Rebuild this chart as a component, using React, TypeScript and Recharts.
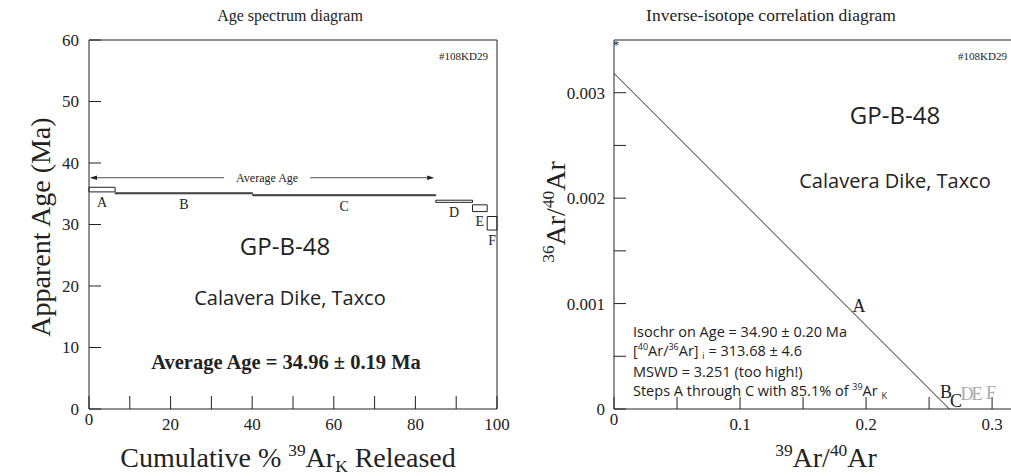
import {
  ComposedChart,
  Line,
  ReferenceArea,
  ReferenceLine,
  Scatter,
  XAxis,
  YAxis,
} from "recharts";

// age spectrum steps (cumulative % 39ArK, apparent age Ma)
const stepNames = ["A", "B", "C", "D", "E", "F"];
const stepStart = [0, 6.4, 40.1, 85.0, 94.0, 97.6];
const stepEnd = [6.4, 40.1, 85.0, 94.0, 97.6, 100];
const ageLow = [35.3, 35.0, 34.68, 33.6, 32.1, 29.1];
const ageHigh = [36.05, 35.15, 34.83, 33.95, 33.2, 31.3];

// "Average Age" arrow span
const avgArrowAge = 37.6;
const avgArrowFrom = 0;
const avgArrowTo = 84.6;

const cumTicks = [0, 10, 20, 30, 40, 50, 60, 70, 80, 90, 100];
const cumTickLabels = ["0", "", "20", "", "40", "", "60", "", "80", "", "100"];
const ageTicks = [0, 10, 20, 30, 40, 50, 60];
const ageTickLabels = ["0", "10", "20", "30", "40", "50", "60"];

// inverse isochron
const isoNames = ["A", "B", "C", "D", "E", "F"];
const isoX = [0.1944, 0.2634, 0.2714, 0.2801, 0.288, 0.2991];
const isoY = [0.000977, 0.000161, 0.000076, 0.000142, 0.000142, 0.000152];
const isochronX = [0, 0.2661];
const isochronY = [0.003184, 0];
const atmX = [0.0016];
const atmY = [0.00348];

const ratioXTicks = [0, 0.05, 0.1, 0.15, 0.2, 0.25, 0.3];
const ratioXLabels = ["0", "", "0.1", "", "0.2", "", "0.3"];
const ratioYTicks = [0, 0.0005, 0.001, 0.0015, 0.002, 0.0025, 0.003];
const ratioYLabels = ["0", "", "0.001", "", "0.002", "", "0.003"];

const SERIF = "'Liberation Serif', 'Times New Roman', serif";
const SANS = "'Open Sans', 'Noto Sans', sans-serif";
const INK = "#222";

const stepLabelData = stepNames.map((n, i) => ({
  name: n,
  x: (stepStart[i] + stepEnd[i]) / 2,
  y: ageLow[i],
}));
const isoData = isoNames.map((n, i) => ({ name: n, x: isoX[i], y: isoY[i] }));
const isochronData = isochronX.map((x, i) => ({ x, y: isochronY[i] }));
const atmData = atmX.map((x, i) => ({ x, y: atmY[i] }));

const BottomTick = (labels: string[], len: number, off: number) => (p: any) => {
  const { x, y, index } = p;
  const label = labels[index];
  return (
    <g>
      <line x1={x} x2={x} y1={y} y2={y - len} stroke={INK} strokeWidth={1} />
      {label && (
        <text
          x={x}
          y={y + off - (label === "0" ? 5 : 0)}
          dy="0.35em"
          textAnchor="middle"
          fontSize={17}
          fontFamily={SERIF}
          fill={INK}
        >
          {label}
        </text>
      )}
    </g>
  );
};

const LeftTick = (labels: string[], len: number, off: number) => (p: any) => {
  const { x, y, index } = p;
  const label = labels[index];
  return (
    <g>
      <line x1={x} x2={x + len} y1={y} y2={y} stroke={INK} strokeWidth={1} />
      {label && (
        <text
          x={x - off}
          y={y}
          dy="0.35em"
          textAnchor="end"
          fontSize={17}
          fontFamily={SERIF}
          fill={INK}
        >
          {label}
        </text>
      )}
    </g>
  );
};

const AvgArrow = (p: any) => {
  const { x1, y1, x2 } = p;
  const mid = x1 + (x2 - x1) * 0.516;
  const gap = 43;
  return (
    <g>
      <line x1={x1 + 2} y1={y1} x2={mid - gap} y2={y1} stroke={INK} strokeWidth={0.8} />
      <line x1={mid + gap} y1={y1} x2={x2 - 2} y2={y1} stroke={INK} strokeWidth={0.8} />
      <path d={`M${x1 + 1},${y1} l7,-2.2 l0,4.4 z`} fill={INK} />
      <path d={`M${x2},${y1} l-7,-2.2 l0,4.4 z`} fill={INK} />
      <text x={mid} y={y1} dy="0.35em" textAnchor="middle" fontSize={12} fontFamily={SERIF} fill={INK}>
        Average Age
      </text>
    </g>
  );
};

const StepLetter = (p: any) => (
  <text
    x={p.cx}
    y={p.cy + 10}
    dy="0.35em"
    textAnchor="middle"
    fontSize={14}
    fontFamily={SERIF}
    fill={INK}
  >
    {p.payload.name}
  </text>
);

const IsoLetter = (p: any) => {
  const grey = ["D", "E", "F"].includes(p.payload.name);
  return (
    <text
      x={p.cx}
      y={p.cy}
      dy="0.35em"
      textAnchor="middle"
      fontSize={18}
      fontFamily={SERIF}
      fill={grey ? "#aaa" : INK}
    >
      {p.payload.name}
    </text>
  );
};

const Star = (p: any) => (
  <text x={p.cx} y={p.cy} dy="0.5em" textAnchor="middle" fontSize={13} fontFamily={SERIF} fill={INK}>
    *
  </text>
);

const Sup = ({ children }: { children: any }) => (
  <span style={{ fontSize: "0.62em", position: "relative", top: "-0.62em" }}>{children}</span>
);
const Sub = ({ children }: { children: any }) => (
  <span style={{ fontSize: "0.62em", position: "relative", top: "0.3em" }}>{children}</span>
);

const abs = (left: number, top: number, extra: any = {}) => ({
  position: "absolute" as const,
  left,
  top,
  transform: "translate(-50%, -50%)",
  whiteSpace: "nowrap" as const,
  lineHeight: 1,
  color: INK,
  ...extra,
});

const App = () => {
  return (
    <div
      style={{
        position: "absolute",
        left: 0,
        top: 0,
        width: 1011,
        height: 476,
        overflow: "hidden",
        background: "#fff",
      }}
    >
      {/* Age spectrum */}
      <div style={{ position: "absolute", left: 0, top: 0 }}>
        <ComposedChart width={510} height={476} margin={{ top: 40, right: 13, left: 0, bottom: 0 }}>
          <XAxis
            type="number"
            dataKey="x"
            domain={[0, 100]}
            ticks={cumTicks}
            interval={0}
            allowDataOverflow
            height={67}
            tickSize={0}
            tickMargin={0}
            tickLine={false}
            axisLine={{ stroke: INK }}
            tick={BottomTick(cumTickLabels, 13, 15)}
          />
          <YAxis
            type="number"
            dataKey="y"
            domain={[0, 60]}
            ticks={ageTicks}
            interval={0}
            allowDataOverflow
            width={89}
            tickSize={0}
            tickMargin={0}
            tickLine={false}
            axisLine={{ stroke: INK }}
            tick={LeftTick(ageTickLabels, 12, 10)}
          />
          <ReferenceLine y={60} stroke={INK} />
          <ReferenceLine x={100} stroke={INK} />
          {stepNames.map((n, i) => (
            <ReferenceArea
              key={n}
              x1={stepStart[i]}
              x2={stepEnd[i]}
              y1={ageLow[i]}
              y2={ageHigh[i]}
              fill="none"
              stroke={INK}
              strokeWidth={1}
            />
          ))}
          <ReferenceLine
            segment={[
              { x: avgArrowFrom, y: avgArrowAge },
              { x: avgArrowTo, y: avgArrowAge },
            ]}
            shape={AvgArrow}
          />
          <Scatter data={stepLabelData} shape={StepLetter} isAnimationActive={false} />
        </ComposedChart>
      </div>

      {/* Inverse isochron */}
      <div style={{ position: "absolute", left: 520, top: 0 }}>
        <ComposedChart width={491} height={476} margin={{ top: 40, right: 0, left: 0, bottom: 0 }}>
          <XAxis
            type="number"
            dataKey="x"
            domain={[0, 0.315]}
            ticks={ratioXTicks}
            interval={0}
            allowDataOverflow
            height={67}
            tickSize={0}
            tickMargin={0}
            tickLine={false}
            axisLine={{ stroke: INK }}
            tick={BottomTick(ratioXLabels, 12, 15)}
          />
          <YAxis
            type="number"
            dataKey="y"
            domain={[0, 0.0035]}
            ticks={ratioYTicks}
            interval={0}
            allowDataOverflow
            width={94}
            tickSize={0}
            tickMargin={0}
            tickLine={false}
            axisLine={{ stroke: INK }}
            tick={LeftTick(ratioYLabels, 12, 9)}
          />
          <ReferenceLine y={0.0035} stroke={INK} />
          <Line
            data={isochronData}
            dataKey="y"
            type="linear"
            stroke={INK}
            strokeWidth={1}
            dot={false}
            isAnimationActive={false}
          />
          <Scatter data={isoData} shape={IsoLetter} isAnimationActive={false} />
          <Scatter data={atmData} shape={Star} isAnimationActive={false} />
        </ComposedChart>
      </div>

      {/* titles and axis labels */}
      <div style={abs(290, 16, { fontFamily: SERIF, fontSize: 16 })}>Age spectrum diagram</div>
      <div style={abs(771, 16, { fontFamily: SERIF, fontSize: 17.5 })}>Inverse-isotope correlation diagram</div>
      <div style={abs(41, 227, { fontFamily: SERIF, fontSize: 28, transform: "translate(-50%, -50%) rotate(-90deg)" })}>
        Apparent Age (Ma)
      </div>
      <div style={abs(288, 458, { fontFamily: SERIF, fontSize: 28 })}>
        Cumulative % <Sup>39</Sup>Ar<Sub>K</Sub> Released
      </div>
      <div style={abs(556, 212, { fontFamily: SERIF, fontSize: 28, transform: "translate(-50%, -50%) rotate(-90deg)" })}>
        <Sup>36</Sup>Ar/<Sup>40</Sup>Ar
      </div>
      <div style={abs(826, 458, { fontFamily: SERIF, fontSize: 28 })}>
        <Sup>39</Sup>Ar/<Sup>40</Sup>Ar
      </div>

      {/* left annotations */}
      <div style={{ position: "absolute", right: 1011 - 488, top: 50, fontFamily: SERIF, fontSize: 11, color: INK }}>
        #108KD29
      </div>
      <div style={abs(285, 246, { fontFamily: SANS, fontSize: 24 })}>GP-B-48</div>
      <div style={abs(290, 298, { fontFamily: SANS, fontSize: 20 })}>Calavera Dike, Taxco</div>
      <div style={abs(286, 362, { fontFamily: SERIF, fontSize: 20.5, fontWeight: "bold" })}>
        Average Age = 34.96 ± 0.19 Ma
      </div>

      {/* right annotations */}
      <div style={{ position: "absolute", left: 958, top: 50, fontFamily: SERIF, fontSize: 11, color: INK }}>
        #108KD29
      </div>
      <div style={abs(895, 115, { fontFamily: SANS, fontSize: 24 })}>GP-B-48</div>
      <div style={abs(895, 181, { fontFamily: SANS, fontSize: 20 })}>Calavera Dike, Taxco</div>
      <div
        style={{
          position: "absolute",
          left: 633,
          top: 322,
          fontFamily: SANS,
          fontSize: 14.5,
          lineHeight: "19px",
          color: INK,
          whiteSpace: "nowrap",
        }}
      >
        <div>Isochr on Age = 34.90 ± 0.20 Ma</div>
        <div>
          [<Sup>40</Sup>Ar/<Sup>36</Sup>Ar] <Sub>i</Sub> = 313.68 ± 4.6
        </div>
        <div>MSWD = 3.251 (too high!)</div>
        <div>
          Steps A through C with 85.1% of <Sup>39</Sup>Ar <Sub>K</Sub>
        </div>
      </div>
    </div>
  );
};

export default App;
